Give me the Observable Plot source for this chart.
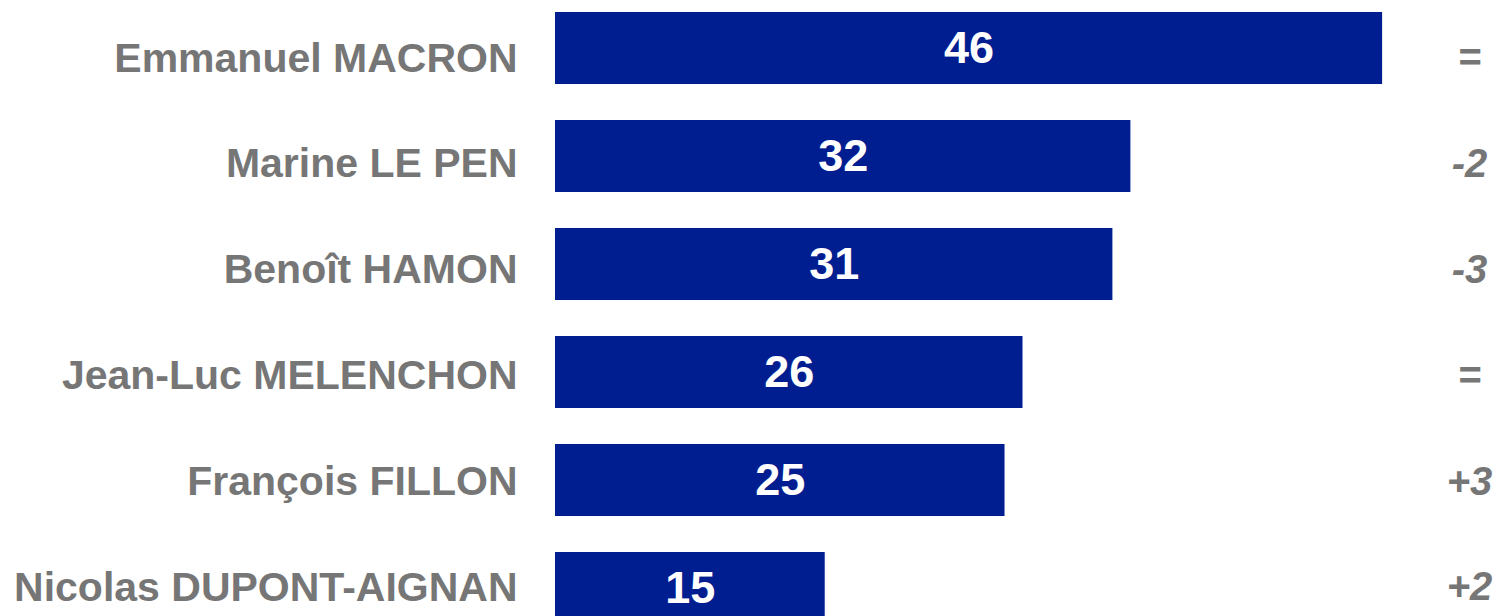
<!DOCTYPE html>
<html><head><meta charset="utf-8">
<script src="https://cdn.jsdelivr.net/npm/d3@7"></script>
<script src="https://cdn.jsdelivr.net/npm/@observablehq/plot@0.6"></script>
<style>
html,body{margin:0;padding:0;background:#fff;overflow:hidden}
#wrap{position:relative;width:1496px;height:616px}
#wrap svg{position:absolute;left:0;top:0}
</style></head><body><div id="wrap"></div>
<script>
const candidates = ["Emmanuel MACRON","Marine LE PEN","Benoît HAMON","Jean-Luc MELENCHON","François FILLON","Nicolas DUPONT-AIGNAN"];
const scores = [46, 32, 31, 26, 25, 15];
const changes = ["=", "-2", "-3", "=", "+3", "+2"];

const rows = candidates.map((c, i) => ({candidate: c, score: scores[i], change: changes[i]}));

const common = {
  width: 1496, height: 616,
  marginLeft: 555, marginRight: 6, marginTop: 0, marginBottom: 0,
  x: {domain: [0, 52], axis: null},
  style: {fontFamily: "'Liberation Sans', Arial, sans-serif", background: "transparent"}
};

const bars = Plot.plot({
  ...common,
  y: {domain: candidates, range: [-24, 660], padding: 1/3, round: false, axis: null},
  marks: [
    Plot.barX(rows, {y: "candidate", x: "score", fill: "#011e91"}),
    Plot.text(rows, {y: "candidate", x: d => d.score / 2, text: d => String(d.score),
      fill: "white", fontSize: 45, fontWeight: "bold"})
  ]
});

const labels = Plot.plot({
  ...common,
  y: {type: "point", domain: candidates, range: [58, 587], padding: 0, round: false, axis: null},
  marks: [
    Plot.text(rows, {y: "candidate", x: 0, dx: -38, text: "candidate", textAnchor: "end",
      fill: "#767676", fontSize: 41, fontWeight: "bold"}),
    Plot.text(rows, {y: "candidate", frameAnchor: "right", dx: -21, text: "change", textAnchor: "middle",
      fill: "#767676", fontSize: 40, fontWeight: "bold", fontStyle: "italic"})
  ]
});

const wrap = document.getElementById("wrap");
wrap.appendChild(bars);
wrap.appendChild(labels);
</script></body></html>
